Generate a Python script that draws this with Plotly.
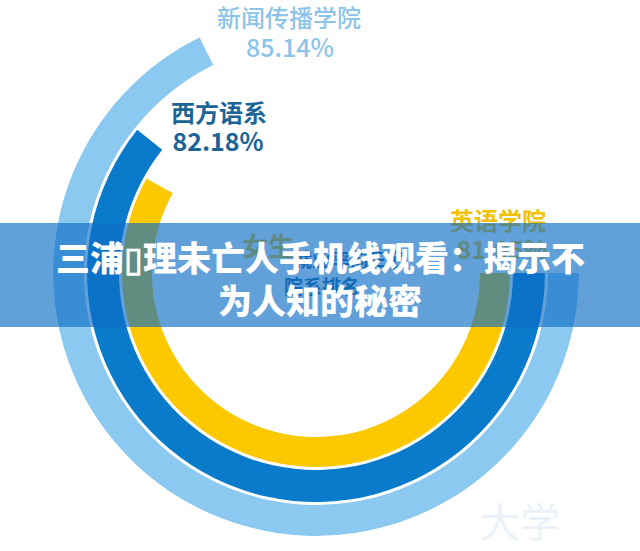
import plotly.graph_objects as go

# ---- data ----
schools = ["英语学院", "西方语系", "新闻传播学院"]          # inner -> outer ring
rates = [81.05, 82.18, 85.14]                               # employment rate, %
ring_colors = ["#FCC800", "#0A7BCB", "#8BC9F0"]
label_colors = ["#F2C200", "#1B6496", "#8CC4EA"]
title_lines = ["三浦\u25AF理未亡人手机线观看：揭示不", "为人知的秘密"]
centre_caption = ["女生", "就业率前三名", "院系排名"]
watermark = "大学"

# angular scale of the infographic: value at the start line and degrees per point
AXIS_START_VALUE = 56.3
DEG_PER_POINT = 8.45
ring_inner = [164, 197, 232]
ring_width = [30, 32, 31]

W, H = 640, 551
CX, CY, R = 316, 273, 263

spans = [(v - AXIS_START_VALUE) * DEG_PER_POINT for v in rates]

fig = go.Figure()

fig.add_trace(go.Barpolar(
    r=ring_width,
    base=ring_inner,
    theta=[s / 2 for s in spans],
    width=spans,
    marker=dict(color=ring_colors, line=dict(width=0)),
    hoverinfo="skip",
    showlegend=False,
))

font = "Noto Sans CJK SC, Noto Sans, sans-serif"

# labels (pixel positions on an overlay axis)
label_x = [498, 219, 289]
label_y = [224, 116, 21]
value_x = [502, 218, 290]
value_y = [253, 145, 51]
label_weight = [700, 700, 500]

for i in range(3):
    fig.add_trace(go.Scatter(
        x=[label_x[i], value_x[i]], y=[label_y[i], value_y[i]],
        mode="text",
        text=[schools[i], f"{rates[i]:.2f}%"],
        textposition="middle center",
        textfont=dict(family=font, size=[24, 25], color=label_colors[i],
                      weight=label_weight[i]),
        hoverinfo="skip", showlegend=False,
    ))

# centre caption (mostly hidden under the banner)
fig.add_trace(go.Scatter(
    x=[268, 350, 322], y=[249, 262, 289],
    mode="text",
    text=centre_caption,
    textposition="middle center",
    textfont=dict(family=font, size=[26, 19, 19],
                  color=["#F2C200", "#1B6496", "#1B6496"], weight=700),
    hoverinfo="skip", showlegend=False,
))

# faint watermark
fig.add_trace(go.Scatter(
    x=[520], y=[527], mode="text", text=[watermark],
    textfont=dict(family=font, size=40, color="rgba(205,224,242,0.45)"),
    hoverinfo="skip", showlegend=False,
))

fig.update_layout(
    width=W, height=H,
    margin=dict(l=0, r=0, t=0, b=0),
    paper_bgcolor="white",
    plot_bgcolor="rgba(0,0,0,0)",
    polar=dict(
        domain=dict(x=[(CX - R) / W, (CX + R) / W],
                    y=[1 - (CY + R) / H, 1 - (CY - R) / H]),
        bgcolor="rgba(0,0,0,0)",
        radialaxis=dict(range=[0, R], visible=False, showgrid=False),
        angularaxis=dict(visible=False, showgrid=False, rotation=0,
                         direction="clockwise"),
        hole=0,
    ),
    xaxis=dict(range=[0, W], domain=[0, 1], visible=False, fixedrange=True),
    yaxis=dict(range=[H, 0], domain=[0, 1], visible=False, fixedrange=True),
    shapes=[dict(type="rect", xref="x", yref="y", x0=0, x1=W, y0=223, y1=327,
                 fillcolor="rgba(14,109,198,0.65)", line=dict(width=0),
                 layer="above")],
    annotations=[
        dict(x=320, y=256, xref="x", yref="y", text=title_lines[0],
             showarrow=False, font=dict(family=font, size=34, color="white",
                                        weight=900)),
        dict(x=320, y=299, xref="x", yref="y", text=title_lines[1],
             showarrow=False, font=dict(family=font, size=34, color="white",
                                        weight=900)),
    ],
)

fig.write_html(
    "out.html",
    config={"displayModeBar": False},
    post_script="document.body.style.margin='0';document.body.style.overflow='hidden';",
)
